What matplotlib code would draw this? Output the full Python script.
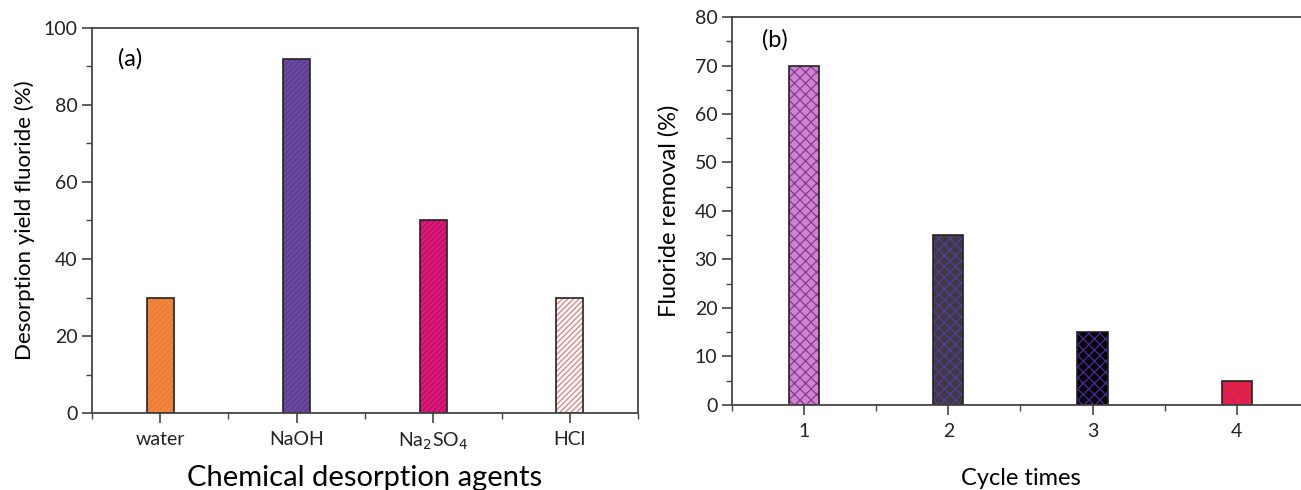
import matplotlib
matplotlib.use("Agg")
import matplotlib.pyplot as plt
from matplotlib.ticker import MultipleLocator

plt.rcParams['font.family'] = ['Lato', 'DejaVu Sans']
plt.rcParams['hatch.linewidth'] = 0.9

# panel (a)
agents = ['water', 'NaOH', 'Na$_2$SO$_4$', 'HCl']
desorption = [30, 92, 50, 30]
colors_a = ['#F47B33', '#6B48A3', '#E0187A', '#FFFFFF']
hatch_a = ['#E8904A', '#5A3A8A', '#B01060', '#E87878']

# panel (b)
cycles = [1, 2, 3, 4]
removal = [70, 35, 15, 5]
colors_b = ['#D282CA', '#3D3B42', '#050308', '#E8203C']
hatch_b = ['#7A3E9A', '#5A3A9A', '#4A2AA0', '#C8206A']

fig = plt.figure(figsize=(13.01, 4.9), dpi=100)
ax1 = fig.add_axes([0.0707, 0.157, 0.4197, 0.786])
ax2 = fig.add_axes([0.5626, 0.1735, 0.4435, 0.7918])

xa = range(len(agents))
ax1.bar(xa, desorption, width=0.2, color=colors_a, edgecolor=hatch_a,
        hatch='//////', linewidth=0)
ax1.bar(xa, desorption, width=0.2, fill=False, edgecolor='#222222', linewidth=1.2)
ax1.set_xlim(-0.5, 3.5)
ax1.set_ylim(0, 100)
ax1.set_xticks(list(xa))
ax1.set_xticklabels(agents)
ax1.xaxis.set_minor_locator(MultipleLocator(0.5))
ax1.yaxis.set_major_locator(MultipleLocator(20))
ax1.yaxis.set_minor_locator(MultipleLocator(10))
ax1.set_ylabel('Desorption yield fluoride (%)', fontsize=16)
ax1.set_xlabel('Chemical desorption agents', fontsize=21, va='center')
ax1.xaxis.set_label_coords(0.5, -0.169)
ax1.yaxis.set_label_coords(-0.104, 0.5)
ax1.text(-0.22, 92, '(a)', fontsize=17, va='center', ha='center')

ax2.bar(cycles, removal, width=0.21, color=colors_b, edgecolor=hatch_b,
        hatch='xxx', linewidth=0)
ax2.bar(cycles, removal, width=0.21, fill=False, edgecolor='#222222', linewidth=1.2)
ax2.set_xlim(0.5, 4.5)
ax2.set_ylim(0, 80)
ax2.set_xticks(cycles)
ax2.xaxis.set_minor_locator(MultipleLocator(0.5))
ax2.yaxis.set_major_locator(MultipleLocator(10))
ax2.yaxis.set_minor_locator(MultipleLocator(5))
ax2.set_ylabel('Fluoride removal (%)', fontsize=17)
ax2.set_xlabel('Cycle times', fontsize=17, va='center')
ax2.xaxis.set_label_coords(0.5, -0.19)
ax2.yaxis.set_label_coords(-0.09, 0.5)
ax2.text(0.8, 75.3, '(b)', fontsize=17, va='center', ha='center')

for ax in (ax1, ax2):
    for s in ax.spines.values():
        s.set_color('#444444')
        s.set_linewidth(1.3)
    ax.tick_params(which='major', direction='out', length=7, width=1.2,
                   labelsize=14, colors='#444444', labelcolor='#222222')
    ax.tick_params(which='minor', direction='out', length=4, width=1.0,
                   colors='#444444')
    ax.tick_params(axis='x', which='major', pad=6)

fig.savefig('out.png', dpi=100)
